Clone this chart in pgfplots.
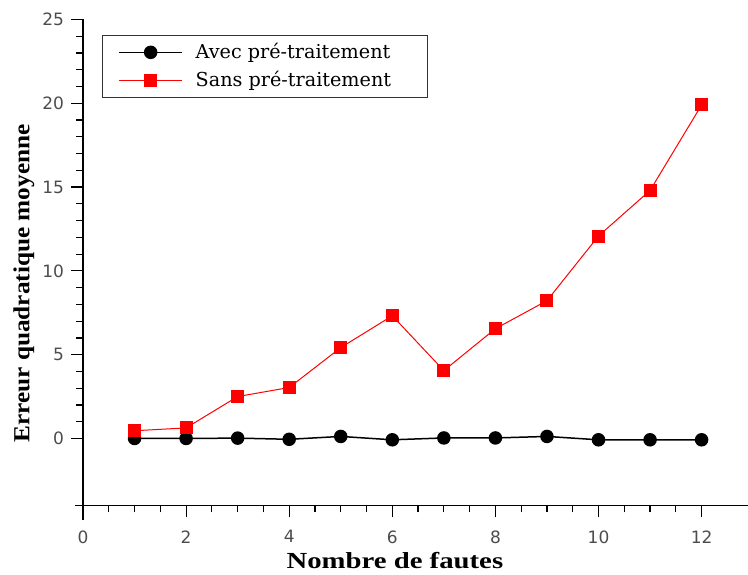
\documentclass[border=0pt]{standalone}
\usepackage{pgfplots}
\pgfplotsset{compat=1.18}
\usepackage{graphicx}
\usepackage{fontspec}
\setmainfont{Liberation Serif}
\newfontfamily\ticksfont{DejaVu Sans}
\newfontfamily\legfont{DejaVu Serif}
\begin{document}
\begin{tikzpicture}
\begin{axis}[
 scale only axis,
 width=332.5pt, height=243pt,
 xmin=0, xmax=12.9, ymin=-4, ymax=25,
 axis lines=left,
 axis line style={-, line width=0.6pt, black},
 x axis line style={shorten <=-4pt},
 y axis line style={shorten <=-7.5pt},
 xtick={0,2,...,12}, ytick={0,5,...,25},
 minor x tick num=3, minor y tick num=4,
 tick align=outside,
 major tick length=6pt, minor tick length=3.5pt,
 tick style={black, line width=0.6pt},
 ticklabel style={font=\ticksfont\fontsize{8.5}{10}\selectfont, text=black!70},
 xticklabel style={yshift=-3pt},
 /pgf/number format/assume math mode=true,
 xlabel={\scalebox{1.25}[1]{\bfseries\fontsize{11.5}{13}\selectfont Nombre de fautes}},
 ylabel={\scalebox{1.1}[1]{\bfseries\fontsize{11.5}{13}\selectfont Erreur quadratique moyenne}},
 xlabel style={at={(axis description cs:0.469,-0.113)}, anchor=center},
 ylabel style={at={(axis description cs:-0.089,0.457)}, anchor=center},
 legend style={at={(axis description cs:0.0286,0.969)}, anchor=north west,
   draw=black!80, line width=0.6pt,
   inner xsep=8pt, inner ysep=2pt, row sep=1pt,
   /tikz/every odd column/.append style={column sep=4.5pt}},
 legend cell align=left,
 legend image code/.code={\draw[mark repeat=2,mark phase=2] plot coordinates {(0cm,0cm)(0.55cm,0cm)(1.1cm,0cm)};},
 clip=false,
]
\coordinate (sw) at (rel axis cs:0,0);
\coordinate (ne) at (rel axis cs:1,1);
\addplot[black, line width=0.75pt, mark=*, mark size=3pt, mark options={solid, fill=black}]
 coordinates {(1,0.0) (2,0.0) (3,0.02) (4,-0.05) (5,0.12) (6,-0.08) (7,0.03) (8,0.03) (9,0.12) (10,-0.08) (11,-0.08) (12,-0.08)};
\addlegendentry{\makebox[106pt][l]{\legfont\fontsize{9.6}{11}\selectfont Avec pré-traitement}}
\addplot[red, line width=0.5pt, mark=square*, mark size=3pt, mark options={solid, fill=red}]
 coordinates {(1,0.46) (2,0.63) (3,2.5) (4,3.04) (5,5.42) (6,7.32) (7,4.05) (8,6.55) (9,8.22) (10,12.08) (11,14.8) (12,19.9)};
\addlegendentry{\makebox[106pt][l]{\legfont\fontsize{9.6}{11}\selectfont Sans pré-traitement}}
\end{axis}
\pgfresetboundingbox
\path ([shift={(-41.5pt,-34.5pt)}]sw) rectangle ([shift={(0pt,9.75pt)}]ne);
\end{tikzpicture}
\end{document}
